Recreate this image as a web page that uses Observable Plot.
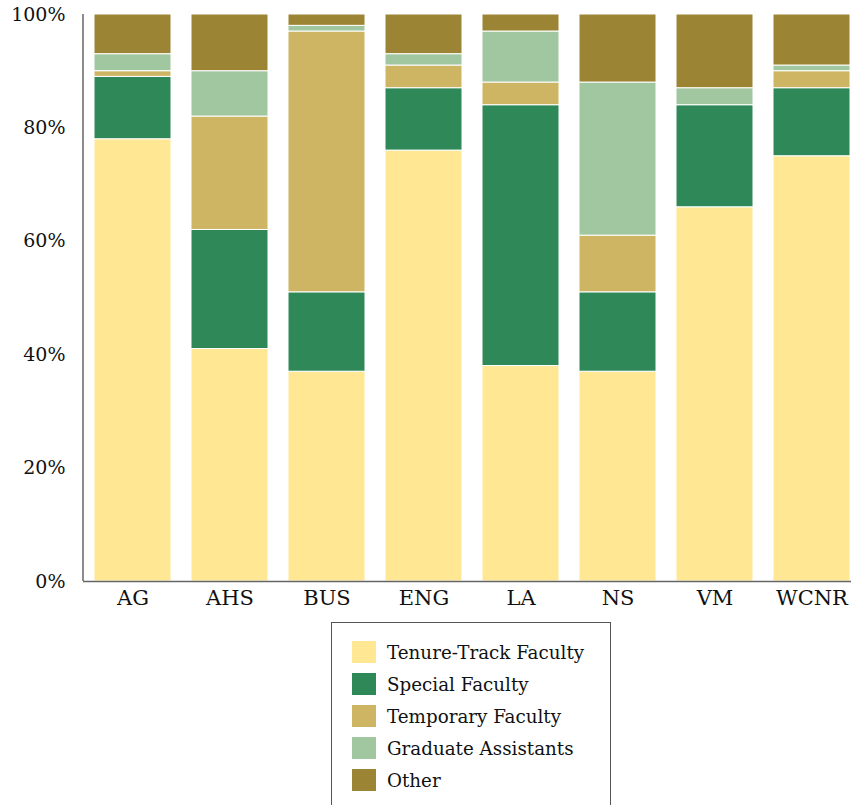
<!DOCTYPE html>
<html>
<head>
<meta charset="utf-8">
<script src="https://cdn.jsdelivr.net/npm/d3@7"></script>
<script src="https://cdn.jsdelivr.net/npm/@observablehq/plot@0.6"></script>
<style>
  html, body { margin: 0; padding: 0; background: #fff; }
  #chart { width: 851px; height: 620px; overflow: hidden; }
  #legend {
    margin-left: 331px; margin-top: 2px; width: 280px; height: 200px;
    border: 1px solid #555; box-sizing: border-box; background: #fff;
    font-family: "DejaVu Serif", serif; font-size: 18.3px; color: #111;
    padding-top: 18px; padding-left: 20px;
  }
  .item { height: 22px; margin-bottom: 10px; display: flex; align-items: center; white-space: nowrap; }
  .sw { width: 24px; height: 22px; margin-right: 11px; flex: none; }
</style>
</head>
<body>
<div id="chart"></div>
<div id="legend"></div>
<script>
const departments = ["AG", "AHS", "BUS", "ENG", "LA", "NS", "VM", "WCNR"];
const types = ["Tenure-Track Faculty", "Special Faculty", "Temporary Faculty", "Graduate Assistants", "Other"];
const colors = ["#ffe793", "#2e8857", "#cdb563", "#a0c7a0", "#9b8434"];
const tenureTrack = [78, 41, 37, 76, 38, 37, 66, 75];
const special     = [11, 21, 14, 11, 46, 14, 18, 12];
const temporary   = [1, 20, 46, 4, 4, 10, 0, 3];
const gradAssist  = [3, 8, 1, 2, 9, 27, 3, 1];
const other       = [7, 10, 2, 7, 3, 12, 13, 9];
const yTicks = [0, 20, 40, 60, 80, 100];

const series = [tenureTrack, special, temporary, gradAssist, other];
const rows = [];
departments.forEach((d, i) => {
  types.forEach((t, j) => rows.push({dept: d, type: t, value: series[j][i]}));
});

const fontFam = '"DejaVu Serif", serif';
const svg = Plot.plot({
  width: 851,
  height: 620,
  marginLeft: 83,
  marginRight: 0,
  marginTop: 14,
  marginBottom: 39,
  style: {fontFamily: fontFam, fontSize: "19px", color: "#111", background: "#fff"},
  x: {domain: departments, range: [82, 862], paddingInner: 0.21, paddingOuter: 0.105, label: null},
  y: {domain: [0, 100], label: null},
  color: {domain: types, range: colors},
  marks: [
    Plot.barY(rows, {x: "dept", y: "value", fill: "type", stroke: "white", strokeWidth: 1, order: null}),
    Plot.axisY({ticks: yTicks, tickFormat: d => d + "%", tickSize: 0, tickPadding: 18, label: null, fontSize: 19}),
    Plot.axisX({tickSize: 0, tickPadding: 9, label: null, fontSize: 21}),
    Plot.ruleY([0], {stroke: "#666", strokeWidth: 1.5})
  ]
});
const ys = svg.scale("y").range;
d3.select(svg).append("line")
  .attr("x1", 83).attr("x2", 83)
  .attr("y1", ys[0]).attr("y2", ys[1])
  .attr("stroke", "#666").attr("stroke-width", 1.5);
document.getElementById("chart").appendChild(svg);

const legendBox = document.getElementById("legend");
types.forEach((t, j) => {
  const it = document.createElement("div");
  it.className = "item";
  const sw = document.createElement("div");
  sw.className = "sw";
  sw.style.background = colors[j];
  const lab = document.createElement("span");
  lab.textContent = t;
  it.appendChild(sw);
  it.appendChild(lab);
  legendBox.appendChild(it);
});
</script>
</body>
</html>
